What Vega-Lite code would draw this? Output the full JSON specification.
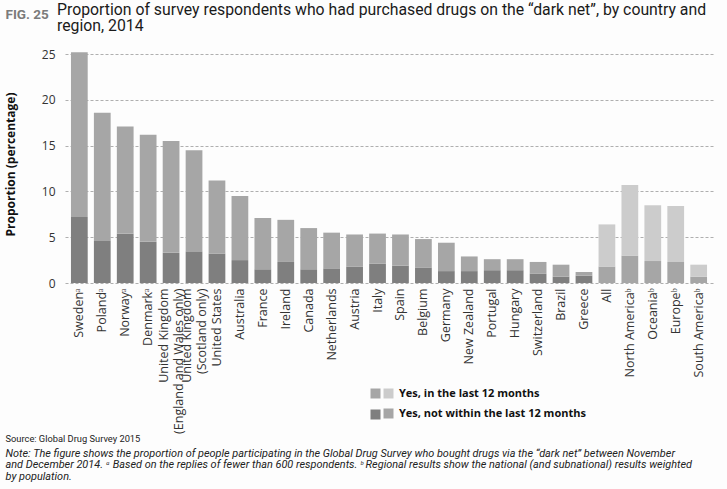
{
  "$schema": "https://vega.github.io/schema/vega-lite/v6.json",
  "width": 648,
  "height": 238,
  "autosize": "none",
  "padding": {"left": 65, "top": 45, "right": 14, "bottom": 206},
  "background": "#fdfdfd",
  "config": {"view": {"stroke": null}, "font": "Open Sans"},
  "title": {
    "text": ["Proportion of survey respondents who had purchased drugs on the \u201cdark net\u201d, by country and", "region, 2014"],
    "anchor": "start",
    "frame": "group",
    "dx": -8,
    "offset": -28,
    "font": "Roboto",
    "fontSize": 15.8,
    "fontWeight": "normal",
    "color": "#1a1a1a",
    "lineHeight": 16
  },
  "data": {"values": [
    {"country": "Swedenᵃ", "group": "Country", "period": "Yes, not within the last 12 months", "value": 7.2},
    {"country": "Swedenᵃ", "group": "Country", "period": "Yes, in the last 12 months", "value": 18.0},
    {"country": "Polandᵃ", "group": "Country", "period": "Yes, not within the last 12 months", "value": 4.6},
    {"country": "Polandᵃ", "group": "Country", "period": "Yes, in the last 12 months", "value": 14.0},
    {"country": "Norwayᵃ", "group": "Country", "period": "Yes, not within the last 12 months", "value": 5.4},
    {"country": "Norwayᵃ", "group": "Country", "period": "Yes, in the last 12 months", "value": 11.7},
    {"country": "Denmarkᵃ", "group": "Country", "period": "Yes, not within the last 12 months", "value": 4.5},
    {"country": "Denmarkᵃ", "group": "Country", "period": "Yes, in the last 12 months", "value": 11.7},
    {"country": "United Kingdom|(England and Wales only)", "group": "Country", "period": "Yes, not within the last 12 months", "value": 3.3},
    {"country": "United Kingdom|(England and Wales only)", "group": "Country", "period": "Yes, in the last 12 months", "value": 12.2},
    {"country": "United Kingdom|(Scotland only)", "group": "Country", "period": "Yes, not within the last 12 months", "value": 3.4},
    {"country": "United Kingdom|(Scotland only)", "group": "Country", "period": "Yes, in the last 12 months", "value": 11.1},
    {"country": "United States", "group": "Country", "period": "Yes, not within the last 12 months", "value": 3.2},
    {"country": "United States", "group": "Country", "period": "Yes, in the last 12 months", "value": 8.0},
    {"country": "Australia", "group": "Country", "period": "Yes, not within the last 12 months", "value": 2.5},
    {"country": "Australia", "group": "Country", "period": "Yes, in the last 12 months", "value": 7.0},
    {"country": "France", "group": "Country", "period": "Yes, not within the last 12 months", "value": 1.5},
    {"country": "France", "group": "Country", "period": "Yes, in the last 12 months", "value": 5.6},
    {"country": "Ireland", "group": "Country", "period": "Yes, not within the last 12 months", "value": 2.3},
    {"country": "Ireland", "group": "Country", "period": "Yes, in the last 12 months", "value": 4.6},
    {"country": "Canada", "group": "Country", "period": "Yes, not within the last 12 months", "value": 1.5},
    {"country": "Canada", "group": "Country", "period": "Yes, in the last 12 months", "value": 4.5},
    {"country": "Netherlands", "group": "Country", "period": "Yes, not within the last 12 months", "value": 1.6},
    {"country": "Netherlands", "group": "Country", "period": "Yes, in the last 12 months", "value": 3.9},
    {"country": "Austria", "group": "Country", "period": "Yes, not within the last 12 months", "value": 1.8},
    {"country": "Austria", "group": "Country", "period": "Yes, in the last 12 months", "value": 3.5},
    {"country": "Italy", "group": "Country", "period": "Yes, not within the last 12 months", "value": 2.1},
    {"country": "Italy", "group": "Country", "period": "Yes, in the last 12 months", "value": 3.3},
    {"country": "Spain", "group": "Country", "period": "Yes, not within the last 12 months", "value": 1.9},
    {"country": "Spain", "group": "Country", "period": "Yes, in the last 12 months", "value": 3.4},
    {"country": "Belgium", "group": "Country", "period": "Yes, not within the last 12 months", "value": 1.7},
    {"country": "Belgium", "group": "Country", "period": "Yes, in the last 12 months", "value": 3.1},
    {"country": "Germany", "group": "Country", "period": "Yes, not within the last 12 months", "value": 1.3},
    {"country": "Germany", "group": "Country", "period": "Yes, in the last 12 months", "value": 3.1},
    {"country": "New Zealand", "group": "Country", "period": "Yes, not within the last 12 months", "value": 1.3},
    {"country": "New Zealand", "group": "Country", "period": "Yes, in the last 12 months", "value": 1.6},
    {"country": "Portugal", "group": "Country", "period": "Yes, not within the last 12 months", "value": 1.4},
    {"country": "Portugal", "group": "Country", "period": "Yes, in the last 12 months", "value": 1.2},
    {"country": "Hungary", "group": "Country", "period": "Yes, not within the last 12 months", "value": 1.4},
    {"country": "Hungary", "group": "Country", "period": "Yes, in the last 12 months", "value": 1.2},
    {"country": "Switzerland", "group": "Country", "period": "Yes, not within the last 12 months", "value": 1.0},
    {"country": "Switzerland", "group": "Country", "period": "Yes, in the last 12 months", "value": 1.3},
    {"country": "Brazil", "group": "Country", "period": "Yes, not within the last 12 months", "value": 0.7},
    {"country": "Brazil", "group": "Country", "period": "Yes, in the last 12 months", "value": 1.3},
    {"country": "Greece", "group": "Country", "period": "Yes, not within the last 12 months", "value": 0.8},
    {"country": "Greece", "group": "Country", "period": "Yes, in the last 12 months", "value": 0.4},
    {"country": "All", "group": "Region", "period": "Yes, not within the last 12 months", "value": 1.8},
    {"country": "All", "group": "Region", "period": "Yes, in the last 12 months", "value": 4.6},
    {"country": "North Americaᵇ", "group": "Region", "period": "Yes, not within the last 12 months", "value": 3.0},
    {"country": "North Americaᵇ", "group": "Region", "period": "Yes, in the last 12 months", "value": 7.7},
    {"country": "Oceaniaᵇ", "group": "Region", "period": "Yes, not within the last 12 months", "value": 2.4},
    {"country": "Oceaniaᵇ", "group": "Region", "period": "Yes, in the last 12 months", "value": 6.1},
    {"country": "Europeᵇ", "group": "Region", "period": "Yes, not within the last 12 months", "value": 2.3},
    {"country": "Europeᵇ", "group": "Region", "period": "Yes, in the last 12 months", "value": 6.1},
    {"country": "South Americaᵇ", "group": "Region", "period": "Yes, not within the last 12 months", "value": 0.7},
    {"country": "South Americaᵇ", "group": "Region", "period": "Yes, in the last 12 months", "value": 1.3}
  ]},
  "layer": [
    {
      "transform": [{"filter": "datum.group === 'Country'"}],
      "mark": {"type": "bar"},
      "encoding": {
        "x": {
          "field": "country",
          "type": "nominal",
          "scale": {
            "domain": ["Swedenᵃ", "Polandᵃ", "Norwayᵃ", "Denmarkᵃ", "United Kingdom|(England and Wales only)", "United Kingdom|(Scotland only)", "United States", "Australia", "France", "Ireland", "Canada", "Netherlands", "Austria", "Italy", "Spain", "Belgium", "Germany", "New Zealand", "Portugal", "Hungary", "Switzerland", "Brazil", "Greece", "All", "North Americaᵇ", "Oceaniaᵇ", "Europeᵇ", "South Americaᵇ"],
            "paddingInner": 0.27,
            "paddingOuter": 0.26
          },
          "axis": {
            "orient": "bottom",
            "title": "Source: Global Drug Survey 2015",
            "titleX": -60,
            "titleY": 158,
            "titleAlign": "left",
            "titleBaseline": "alphabetic",
            "titleFont": "Roboto",
            "titleFontWeight": "normal",
            "titleFontSize": 9.3,
            "titleColor": "#222222",
            "labelAngle": -90,
            "labelAlign": "right",
            "labelBaseline": "middle",
            "labelExpr": "split(datum.label, '|')",
            "labelFont": "Open Sans",
            "labelFontSize": 12.5,
            "labelColor": "#333333",
            "labelPadding": 5,
            "labelLineHeight": 15,
            "labelOffset": {"condition": {"test": "indexof(datum.value, '|') >= 0", "value": -7.5}, "value": 0},
            "labelOverlap": false,
            "labelLimit": 300,
            "ticks": false,
            "domain": false
          }
        },
        "y": {
          "field": "value",
          "type": "quantitative",
          "stack": "zero",
          "scale": {"domain": [0, 25]},
          "axis": {
            "title": "Proportion (percentage)",
            "titleFont": "Open Sans",
            "titleFontWeight": "bold",
            "titleFontSize": 12,
            "titleColor": "#111111",
            "titlePadding": 24,
            "values": [0, 5, 10, 15, 20, 25],
            "labelFont": "Open Sans",
            "labelFontSize": 12,
            "labelColor": "#333333",
            "labelPadding": 10,
            "ticks": false,
            "domain": false,
            "grid": true,
            "gridDash": [3, 2],
            "gridColor": "#9a9a9a",
            "gridWidth": 0.8
          }
        },
        "order": {"field": "period", "sort": "descending"},
        "color": {
          "field": "period",
          "type": "nominal",
          "scale": {"domain": ["Yes, in the last 12 months", "Yes, not within the last 12 months"], "range": ["#a6a6a6", "#7f7f7f"]},
          "legend": {
            "orient": "none",
            "legendX": 305,
            "legendY": 343,
            "title": null,
            "symbolType": "square",
            "symbolSize": 100,
            "symbolStrokeWidth": 0,
            "symbolOpacity": 1,
            "labelExpr": "''",
            "labelFontSize": 11,
            "rowPadding": 9
          }
        }
      }
    },
    {
      "transform": [
        {"filter": "datum.group === 'Region'"},
        {"calculate": "datum.period", "as": "regionPeriod"}
      ],
      "mark": {"type": "bar"},
      "encoding": {
        "x": {
          "field": "country",
          "type": "nominal",
          "axis": {
            "orient": "top",
            "labels": false,
            "ticks": false,
            "domain": false,
            "grid": false,
            "title": "FIG. 25",
            "titleX": -60,
            "titleY": -27,
            "titleAlign": "left",
            "titleBaseline": "alphabetic",
            "titleFont": "Roboto",
            "titleFontWeight": "bold",
            "titleFontSize": 13.5,
            "titleColor": "#7b7b7b"
          }
        },
        "y": {
          "field": "value",
          "type": "quantitative",
          "stack": "zero",
          "axis": {
            "title": ["Note: The figure shows the proportion of people participating in the Global Drug Survey who bought drugs via the \u201cdark net\u201d between November", "and December 2014. ᵃ Based on the replies of fewer than 600 respondents. ᵇ Regional results show the national (and subnational) results weighted", "by population."],
            "titleAngle": 0,
            "titleX": -708,
            "titleY": 411,
            "titleAlign": "left",
            "titleBaseline": "alphabetic",
            "titleFont": "Roboto",
            "titleFontStyle": "italic",
            "titleFontWeight": "normal",
            "titleFontSize": 10.9,
            "titleLineHeight": 11.5,
            "titleColor": "#222222",
            "labels": false,
            "ticks": false,
            "domain": false,
            "grid": false
          }
        },
        "order": {"field": "regionPeriod", "sort": "descending"},
        "fill": {
          "field": "regionPeriod",
          "type": "nominal",
          "scale": {"range": ["#cccccc", "#a6a6a6"]},
          "legend": {
            "orient": "none",
            "legendX": 318,
            "legendY": 343,
            "title": null,
            "symbolType": "square",
            "symbolSize": 100,
            "symbolStrokeWidth": 0,
            "symbolOpacity": 1,
            "labelFont": "Open Sans",
            "labelFontSize": 11,
            "labelFontWeight": "bold",
            "labelColor": "#111111",
            "labelOffset": 5,
            "labelLimit": 300,
            "rowPadding": 8
          }
        }
      }
    }
  ],
  "resolve": {"axis": {"x": "independent", "y": "independent"}}
}
